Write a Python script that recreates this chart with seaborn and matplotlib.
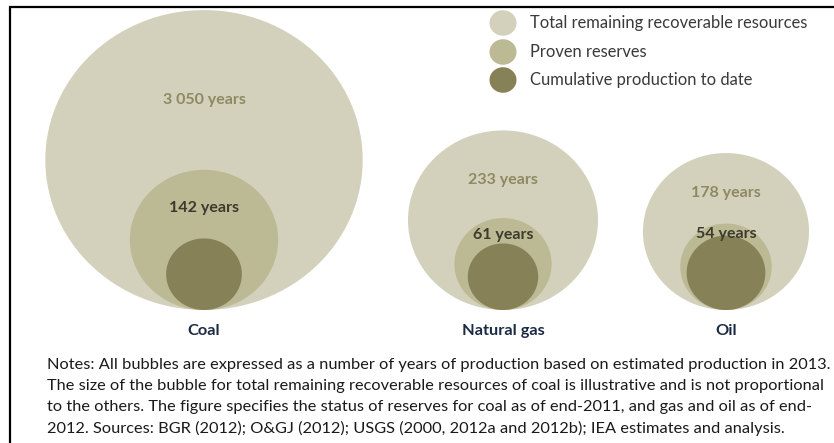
import matplotlib.pyplot as plt
import numpy as np
import pandas as pd
import seaborn as sns
from matplotlib.path import Path

# bubble values, years of production (area of bubble ~ years)
categories = ['Coal', 'Natural gas', 'Oil']
total_labels = ['3 050 years', '233 years', '178 years']
total_years = [650, 233, 178]        # coal bubble is illustrative only
proven_years = [142, 61, 54]
cumulative_years = [37, 32, 40]      # not labelled
layers = ['Total remaining recoverable resources', 'Proven reserves',
          'Cumulative production to date']
notes = [
    'Notes: All bubbles are expressed as a number of years of production based on estimated production in 2013.',
    'The size of the bubble for total remaining recoverable resources of coal is illustrative and is not proportional',
    'to the others. The figure specifies the status of reserves for coal as of end-2011, and gas and oil as of end-',
    '2012. Sources: BGR (2012); O&GJ (2012); USGS (2000, 2012a and 2012b); IEA estimates and analysis.',
]

colors = ['#d3d1bc', '#bcb995', '#868157']
x_pos = [204, 503, 726]
base_y = 310
px_per_sqrt_year = 12.45
squash = 0.945

# slightly flattened circle as marker
t = np.linspace(0, 2 * np.pi, 120)
ellipse = Path(np.column_stack([np.cos(t), squash * np.sin(t)]), closed=True)

rows = []
for i, cat in enumerate(categories):
    for layer, vals in zip(layers, [total_years, proven_years, cumulative_years]):
        d = px_per_sqrt_year * np.sqrt(vals[i])
        rows.append(dict(category=cat, layer=layer, years=vals[i], x=x_pos[i],
                         y=base_y - d * squash / 2, top=base_y - d * squash))
df = pd.DataFrame(rows)

sns.set_theme(style='white')
plt.rcParams['font.family'] = ['Lato', 'DejaVu Sans']

fig = plt.figure(figsize=(8.34, 4.43), dpi=100)
ax = fig.add_axes([0, 0, 1, 1])
ax.set_xlim(0, 834)
ax.set_ylim(443, 0)
ax.axis('off')

pt = 72 / 100  # points per pixel
max_years = max(df['years'])
max_area = (px_per_sqrt_year * np.sqrt(max_years) * pt) ** 2
sns.scatterplot(data=df, x='x', y='y', hue='layer', palette=colors,
                size='years', sizes=(0, max_area), size_norm=(0, max_years),
                marker=ellipse, linewidth=0, legend=False, ax=ax)

# labels inside bubbles
for i, cat in enumerate(categories):
    sub = df[df['category'] == cat].set_index('layer')
    t_top, p_top, c_top = sub.loc[layers, 'top']
    ax.text(x_pos[i], t_top + 0.56 * (p_top - t_top), total_labels[i], ha='center',
            va='center', fontsize=11.5, fontweight='bold', color='#8d8963')
    ax.text(x_pos[i], (p_top + c_top) / 2 + 4, f'{proven_years[i]} years', ha='center',
            va='center', fontsize=11.5, fontweight='bold', color='#3b3a2c')
    ax.text(x_pos[i], 331, cat, ha='center', va='center', fontsize=11.8,
            fontweight='bold', color='#1c2b45')

# legend
leg = pd.DataFrame({'layer': layers, 'x': [503] * 3, 'y': [23, 52, 80]})
sns.scatterplot(data=leg, x='x', y='y', hue='layer', palette=colors, s=(27 * pt) ** 2,
                marker=ellipse, linewidth=0, legend=False, ax=ax)
for yy, name in zip(leg['y'], layers):
    ax.text(530, yy, name, ha='left', va='center', fontsize=11.9, color='#3a3a3a')

# notes
for k, line in enumerate(notes):
    ax.text(47, 365 + 21 * k, line, ha='left', va='center', fontsize=11.8, color='#1a1a1a')

# frame
ax.plot([10, 10, 834], [443, 7, 7], color='black', linewidth=1.6, solid_joinstyle='miter')

fig.savefig('out.png', dpi=100)
